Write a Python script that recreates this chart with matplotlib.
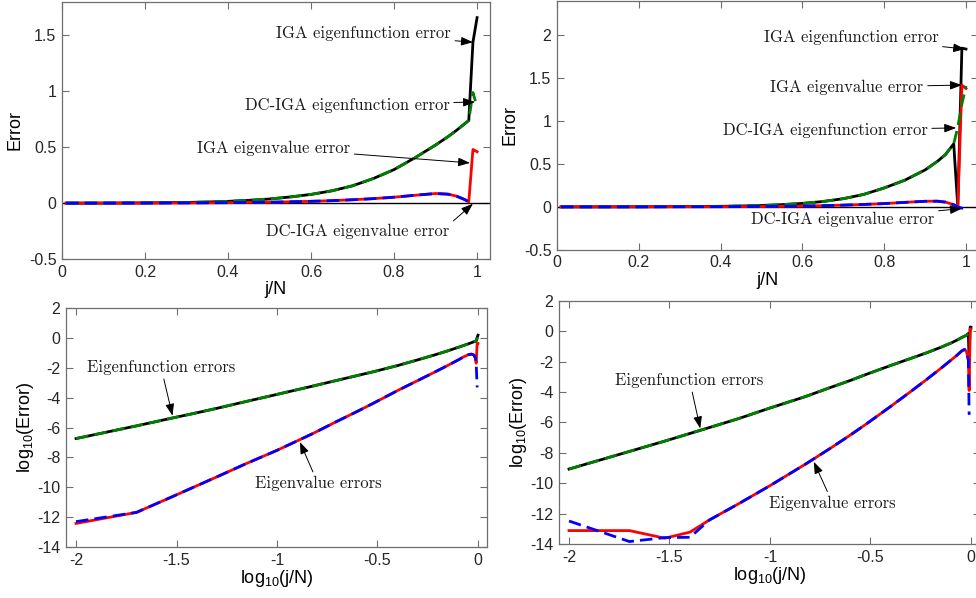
import numpy as np
import matplotlib
matplotlib.use("Agg")
import matplotlib.pyplot as plt
from matplotlib.ticker import FuncFormatter

plt.rcParams["font.family"] = ["Liberation Sans", "DejaVu Sans"]
plt.rcParams["mathtext.default"] = "regular"

nan = np.nan

# ---- top row: error against j/N (linear) ----
top_x = [0.01, 0.1, 0.2, 0.3, 0.35, 0.4, 0.45, 0.5, 0.55, 0.6, 0.65, 0.7, 0.75,
         0.8, 0.85, 0.9, 0.93, 0.95, 0.97, 0.98, 0.99, 1.0]

tl_iga_func = [0, 0.0005, 0.002, 0.006, 0.01, 0.016, 0.025, 0.037, 0.055, 0.078,
               0.11, 0.155, 0.22, 0.30, 0.405, 0.52, 0.595, 0.65, 0.71, 0.74,
               1.44, 1.66]
tl_dc_func = [0, 0.0005, 0.002, 0.006, 0.01, 0.016, 0.025, 0.037, 0.055, 0.078,
              0.11, 0.155, 0.22, 0.30, 0.405, 0.52, 0.595, 0.65, 0.71, 0.74,
              0.99, 0.86]
tl_iga_val = [0, 0.0002, 0.001, 0.002, 0.003, 0.004, 0.006, 0.008, 0.012, 0.016,
              0.022, 0.03, 0.04, 0.053, 0.07, 0.086, 0.08, 0.063, 0.032, 0.012,
              0.48, 0.46]
tl_dc_val = [0, 0.0002, 0.001, 0.002, 0.003, 0.004, 0.006, 0.008, 0.012, 0.016,
             0.022, 0.03, 0.04, 0.053, 0.07, 0.086, 0.08, 0.063, 0.032, 0.012,
             0.002, nan]

tr_iga_func = [0, 0.0003, 0.001, 0.003, 0.004, 0.006, 0.01, 0.016, 0.026, 0.04,
               0.062, 0.095, 0.145, 0.22, 0.31, 0.43, 0.53, 0.61, 0.735, 0.0,
               1.85, 1.84]
tr_dc_func = [0, 0.0003, 0.001, 0.003, 0.004, 0.006, 0.01, 0.016, 0.026, 0.04,
              0.062, 0.095, 0.145, 0.22, 0.31, 0.43, 0.53, 0.61, 0.735, 0.93,
              1.2, 1.41]
tr_iga_val = [0, 0.0001, 0.0003, 0.001, 0.0015, 0.002, 0.003, 0.004, 0.006, 0.009,
              0.014, 0.02, 0.028, 0.038, 0.052, 0.065, 0.066, 0.055, 0.025, 0.0,
              1.42, 1.38]
tr_dc_val = [0, 0.0001, 0.0003, 0.001, 0.0015, 0.002, 0.003, 0.004, 0.006, 0.009,
             0.014, 0.02, 0.028, 0.038, 0.052, 0.065, 0.066, 0.055, 0.025, 0.0,
             -0.015, -0.03]

# ---- bottom row: log10(error) against log10(j/N) ----
log_x = [-2.0, -1.699, -1.523, -1.398, -1.301, -1.155, -1.0, -0.824, -0.699,
         -0.602, -0.523, -0.398, -0.301, -0.222, -0.155, -0.097, -0.071,
         -0.046, -0.032, -0.022, -0.013, -0.009, -0.004, 0.0]

bl_iga_func = [-6.73, -5.88, -5.36, -5.0, -4.71, -4.25, -3.77, -3.22, -2.82, -2.51,
               -2.26, -1.83, -1.46, -1.15, -0.87, -0.61, -0.49, -0.37, -0.30,
               -0.25, -0.21, -0.18, 0.05, 0.2]
bl_dc_func = [-6.73, -5.88, -5.36, -5.0, -4.71, -4.25, -3.77, -3.22, -2.82, -2.51,
              -2.26, -1.83, -1.46, -1.15, -0.87, -0.61, -0.49, -0.37, -0.30,
              -0.25, -0.21, -0.18, -0.02, -0.08]
bl_iga_val = [-12.42, -11.68, -10.64, -9.89, -9.31, -8.42, -7.52, -6.41, -5.56,
              -4.92, -4.38, -3.5, -2.85, -2.32, -1.86, -1.45, -1.25, -1.1, -1.07,
              -1.12, -1.3, -1.68, -0.33, -0.35]
bl_dc_val = [-12.3, -11.68, -10.64, -9.89, -9.31, -8.42, -7.52, -6.41, -5.56,
             -4.92, -4.38, -3.5, -2.85, -2.32, -1.86, -1.45, -1.25, -1.1, -1.07,
             -1.12, -1.3, -1.7, -3.3, nan]

br_iga_func = [-9.06, -7.9, -7.22, -6.72, -6.33, -5.74, -5.05, -4.3, -3.7, -3.25,
               -2.85, -2.25, -1.8, -1.43, -1.09, -0.77, -0.6, -0.42, -0.33, -0.26,
               -0.15, -2.0, 0.27, 0.26]
br_dc_func = [-9.06, -7.9, -7.22, -6.72, -6.33, -5.74, -5.05, -4.3, -3.7, -3.25,
              -2.85, -2.25, -1.8, -1.43, -1.09, -0.77, -0.6, -0.42, -0.33, -0.26,
              -0.15, -0.05, 0.05, 0.15]
br_iga_val = [-13.1, -13.1, -13.6, -13.2, -12.4, -11.33, -10.15, -8.74, -7.69,
              -6.84, -6.12, -4.93, -3.98, -3.19, -2.5, -1.88, -1.6, -1.3, -1.2,
              -1.35, -1.9, -3.9, 0.15, 0.14]
br_dc_val = [-12.47, -13.82, -13.56, -13.54, -12.4, -11.33, -10.15, -8.74, -7.69,
             -6.84, -6.12, -4.93, -3.98, -3.19, -2.5, -1.88, -1.6, -1.3, -1.2,
             -1.35, -1.9, -5.5, nan, nan]

SPINE = "#6e6e6e"
GREEN = "#008000"
DASH = (4.5, 2.2)
LW = 2.0


def style_axes(ax):
    for s in ax.spines.values():
        s.set_color(SPINE)
        s.set_linewidth(0.9)
    ax.tick_params(direction="in", top=True, right=True, length=5, width=0.8,
                   color=SPINE, labelsize=11.5, labelcolor="#262626", pad=4)
    fmt = FuncFormatter(lambda v, p: "%g" % round(v, 6))
    ax.xaxis.set_major_formatter(fmt)
    ax.yaxis.set_major_formatter(fmt)


def draw_curves(ax, x, iga_f, dc_f, iga_v, dc_v):
    ax.plot(x, iga_f, color="k", lw=LW, zorder=3)
    ax.plot(x, dc_f, color=GREEN, lw=LW, dashes=DASH, zorder=4)
    ax.plot(x, iga_v, color="r", lw=LW, zorder=3)
    ax.plot(x, dc_v, color="b", lw=LW, dashes=DASH, zorder=4)


def note(ax, text, xy, xytext, relpos=(0.5, 0.5)):
    ax.annotate(text, xy=xy, xytext=xytext, textcoords="data",
                ha="center", va="center", fontsize=12, family="cmr10",
                color="#1a1a1a", zorder=6,
                arrowprops=dict(arrowstyle="-|>,head_length=0.6,head_width=0.22",
                                color="k", lw=0.7, shrinkA=1, shrinkB=0,
                                mutation_scale=12, relpos=relpos))


def labels(ax, xl, yl, xpad, ypad):
    ax.set_xlabel(xl, fontsize=13, labelpad=xpad)
    ax.set_ylabel(yl, fontsize=13, labelpad=ypad)


fig = plt.figure(figsize=(9.76, 5.98), dpi=100)

ax_tl = fig.add_axes([0.0635, 0.5669, 0.4385, 0.4298])
ax_tr = fig.add_axes([0.5707, 0.5824, 0.4316, 0.4159])
ax_bl = fig.add_axes([0.0676, 0.0853, 0.4314, 0.3991])
ax_br = fig.add_axes([0.5727, 0.0898, 0.4314, 0.4074])

# top left
ax = ax_tl
ax.axhline(0, color="k", lw=1.0, zorder=2)
draw_curves(ax, top_x, tl_iga_func, tl_dc_func, tl_iga_val, tl_dc_val)
ax.set_xlim(0, 1.031)
ax.set_ylim(-0.5, 1.8)
ax.set_xticks(np.arange(0, 1.01, 0.2))
ax.set_yticks(np.arange(-0.5, 1.51, 0.5))
labels(ax, "j/N", "Error", 1, 4)
note(ax, "IGA eigenfunction error", (0.99, 1.44), (0.7265, 1.52))
note(ax, "DC-IGA eigenfunction error", (0.995, 0.905), (0.687, 0.877))
note(ax, "IGA eigenvalue error", (0.983, 0.36), (0.51, 0.494))
note(ax, "DC-IGA eigenvalue error", (0.99, -0.006), (0.713, -0.257), relpos=(1, 1))
style_axes(ax)

# top right
ax = ax_tr
ax.axhline(0, color="k", lw=1.0, zorder=2)
draw_curves(ax, top_x, tr_iga_func, tr_dc_func, tr_iga_val, tr_dc_val)
ax.set_xlim(0, 1.03)
ax.set_ylim(-0.5, 2.4)
ax.set_xticks(np.arange(0, 1.01, 0.2))
ax.set_yticks(np.arange(-0.5, 2.01, 0.5))
labels(ax, "j/N", "Error", 1, 4)
note(ax, "IGA eigenfunction error", (0.998, 1.84), (0.719, 1.98))
note(ax, "IGA eigenvalue error", (0.99, 1.42), (0.709, 1.395))
note(ax, "DC-IGA eigenfunction error", (0.976, 0.92), (0.656, 0.895))
note(ax, "DC-IGA eigenvalue error", (0.99, -0.02), (0.699, -0.151))
style_axes(ax)

# bottom left
ax = ax_bl
draw_curves(ax, log_x, bl_iga_func, bl_dc_func, bl_iga_val, bl_dc_val)
ax.set_xlim(-2.05, 0.045)
ax.set_ylim(-14, 2)
ax.set_xticks(np.arange(-2, 0.01, 0.5))
ax.set_yticks(np.arange(-14, 2.1, 2))
labels(ax, "log$_{10}$(j/N)", "log$_{10}$(Error)", 0, 1)
note(ax, "Eigenfunction errors", (-1.52, -5.2), (-1.577, -1.95))
note(ax, "Eigenvalue errors", (-0.886, -6.96), (-0.796, -9.75))
style_axes(ax)

# bottom right
ax = ax_br
draw_curves(ax, log_x, br_iga_func, br_dc_func, br_iga_val, br_dc_val)
ax.set_xlim(-2.05, 0.045)
ax.set_ylim(-14, 2)
ax.set_xticks(np.arange(-2, 0.01, 0.5))
ax.set_yticks(np.arange(-14, 2.1, 2))
labels(ax, "log$_{10}$(j/N)", "log$_{10}$(Error)", 0, 1)
note(ax, "Eigenfunction errors", (-1.347, -6.39), (-1.40, -3.23))
note(ax, "Eigenvalue errors", (-0.782, -8.58), (-0.688, -11.3))
style_axes(ax)

fig.savefig("out.png", dpi=100)
